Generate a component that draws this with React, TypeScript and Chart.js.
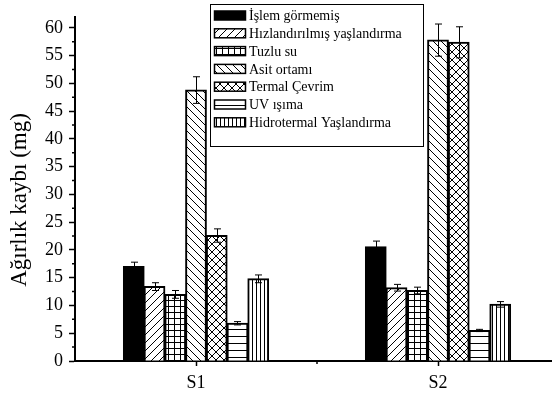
import React, { useEffect, useRef } from "react";
import { Chart, registerables } from "chart.js";

Chart.register(...registerables);

const CATEGORIES = ["S1", "S2"];
const SERIES_LABELS = [
  "İşlem görmemiş",
  "Hızlandırılmış yaşlandırma",
  "Tuzlu su",
  "Asit ortamı",
  "Termal Çevrim",
  "UV ışıma",
  "Hidrotermal Yaşlandırma",
];
const ISLEM = [17.0, 20.6];
const ISLEM_ERR = [0.8, 1.0];
const HIZLANDIRILMIS = [13.4, 13.2];
const HIZLANDIRILMIS_ERR = [0.7, 0.6];
const TUZLU = [12.0, 12.7];
const TUZLU_ERR = [0.7, 0.6];
const ASIT = [48.8, 57.8];
const ASIT_ERR = [2.4, 2.9];
const TERMAL = [22.6, 57.4];
const TERMAL_ERR = [1.2, 2.8];
const UV = [6.8, 5.5];
const UV_ERR = [0.3, 0.2];
const HIDRO = [14.8, 10.2];
const HIDRO_ERR = [0.7, 0.5];
const Y_TICKS = [0, 5, 10, 15, 20, 25, 30, 35, 40, 45, 50, 55, 60];
const Y_TITLE = "Ağırlık kaybı (mg)";

const SERIES = [ISLEM, HIZLANDIRILMIS, TUZLU, ASIT, TERMAL, UV, HIDRO];
const ERRORS = [ISLEM_ERR, HIZLANDIRILMIS_ERR, TUZLU_ERR, ASIT_ERR, TERMAL_ERR, UV_ERR, HIDRO_ERR];
const KINDS = ["solid", "fdiag", "grid", "bdiag", "cross", "horiz", "vert"];

const FONT = "'Liberation Serif', 'Times New Roman', serif";

function makePattern(kind: string): any {
  if (kind === "solid") return "#000";
  const sizes: Record<string, number> = { fdiag: 8, grid: 6, bdiag: 8, cross: 8, horiz: 7, vert: 4 };
  const s = sizes[kind];
  const c = document.createElement("canvas");
  c.width = s;
  c.height = s;
  const ctx = c.getContext("2d")!;
  ctx.fillStyle = "#fff";
  ctx.fillRect(0, 0, s, s);
  ctx.strokeStyle = "#000";
  ctx.lineWidth = 1;
  ctx.beginPath();
  if (kind === "fdiag" || kind === "cross") {
    ctx.moveTo(-1, s + 1);
    ctx.lineTo(s + 1, -1);
    ctx.moveTo(-1, 1);
    ctx.lineTo(1, -1);
    ctx.moveTo(s - 1, s + 1);
    ctx.lineTo(s + 1, s - 1);
  }
  if (kind === "bdiag" || kind === "cross") {
    ctx.moveTo(-1, -1);
    ctx.lineTo(s + 1, s + 1);
    ctx.moveTo(s - 1, -1);
    ctx.lineTo(s + 1, 1);
    ctx.moveTo(-1, s - 1);
    ctx.lineTo(1, s + 1);
  }
  if (kind === "grid" || kind === "horiz") {
    ctx.moveTo(0, 0.5);
    ctx.lineTo(s, 0.5);
  }
  if (kind === "grid" || kind === "vert") {
    ctx.moveTo(0.5, 0);
    ctx.lineTo(0.5, s);
  }
  ctx.stroke();
  return ctx.createPattern(c, "repeat");
}

export default function App() {
  const ref = useRef<HTMLCanvasElement>(null);

  useEffect(() => {
    const canvas = ref.current!;
    const fills = KINDS.map(makePattern);

    const errorBars = {
      id: "errorBars",
      afterDatasetsDraw(chart: any) {
        const ctx = chart.ctx;
        const y = chart.scales.y;
        ctx.save();
        ctx.strokeStyle = "#000";
        ctx.lineWidth = 1;
        chart.data.datasets.forEach((ds: any, i: number) => {
          const meta = chart.getDatasetMeta(i);
          meta.data.forEach((el: any, j: number) => {
            const v = ds.data[j];
            const e = ERRORS[i][j];
            const x = Math.round(el.x) + 0.5;
            const t = y.getPixelForValue(v + e);
            const b = y.getPixelForValue(v - e);
            ctx.beginPath();
            ctx.moveTo(x, t);
            ctx.lineTo(x, b);
            ctx.moveTo(x - 3.5, t);
            ctx.lineTo(x + 3.5, t);
            ctx.moveTo(x - 3.5, b);
            ctx.lineTo(x + 3.5, b);
            ctx.stroke();
          });
        });
        ctx.restore();
      },
    };

    const decorations = {
      id: "decorations",
      afterDraw(chart: any) {
        const ctx = chart.ctx;
        const y = chart.scales.y;
        const x = chart.scales.x;
        const area = chart.chartArea;
        ctx.save();
        // minor ticks
        ctx.strokeStyle = "#000";
        ctx.lineWidth = 1.5;
        ctx.beginPath();
        for (let k = 0; k < Y_TICKS.length - 1; k++) {
          const v = (Y_TICKS[k] + Y_TICKS[k + 1]) / 2;
          const py = y.getPixelForValue(v);
          ctx.moveTo(area.left, py);
          ctx.lineTo(area.left - 3, py);
        }
        for (let k = 0; k < CATEGORIES.length - 1; k++) {
          const px = (x.getPixelForValue(k) + x.getPixelForValue(k + 1)) / 2;
          ctx.moveTo(px, area.bottom);
          ctx.lineTo(px, area.bottom + 3);
        }
        ctx.stroke();

        // y title
        ctx.fillStyle = "#000";
        ctx.font = `23px ${FONT}`;
        ctx.textAlign = "center";
        ctx.textBaseline = "middle";
        ctx.translate(20, 200);
        ctx.rotate(-Math.PI / 2);
        ctx.fillText(Y_TITLE, 0, 0);
        ctx.setTransform(1, 0, 0, 1, 0, 0);

        // legend
        const lx = 210.5, ly = 4.5, lw = 213, lh = 142;
        ctx.fillStyle = "#fff";
        ctx.fillRect(lx, ly, lw, lh);
        ctx.strokeStyle = "#000";
        ctx.lineWidth = 1;
        ctx.strokeRect(lx, ly, lw, lh);
        ctx.font = `14px ${FONT}`;
        ctx.textAlign = "left";
        ctx.textBaseline = "middle";
        SERIES_LABELS.forEach((label, i) => {
          const cy = 15.5 + i * 17.8;
          ctx.fillStyle = fills[i];
          ctx.fillRect(214.5, cy - 4.5, 31, 9);
          ctx.lineWidth = 1.5;
          ctx.strokeStyle = "#000";
          ctx.strokeRect(214.5, cy - 4.5, 31, 9);
          ctx.fillStyle = "#000";
          ctx.fillText(label, 249, cy + 1);
        });
        ctx.restore();
      },
    };

    const chart = new Chart(canvas, {
      type: "bar",
      data: {
        labels: CATEGORIES,
        datasets: SERIES.map((d, i) => ({
          label: SERIES_LABELS[i],
          data: d,
          backgroundColor: fills[i],
          borderColor: "#000",
          borderWidth: 2,
          inflateAmount: 0.5,
          barPercentage: 1,
          categoryPercentage: 0.6,
        })),
      },
      options: {
        animation: false,
        responsive: false,
        events: [],
        layout: { padding: { top: 3, right: 3, left: 0, bottom: 0 } },
        plugins: { legend: { display: false }, tooltip: { enabled: false } },
        scales: {
          x: {
            type: "category",
            offset: true,
            grid: {
              offset: false,
              drawOnChartArea: false,
              tickLength: 5,
              tickColor: "#000",
              tickWidth: 1.5,
            },
            border: { color: "#000", width: 2 },
            ticks: { color: "#000", font: { family: FONT, size: 18 }, padding: 6 },
            afterFit: (s: any) => {
              s.height = 33;
            },
          },
          y: {
            min: 0,
            max: 62,
            afterBuildTicks: (s: any) => {
              s.ticks = Y_TICKS.map((v) => ({ value: v }));
            },
            grid: {
              drawOnChartArea: false,
              tickLength: 6,
              tickColor: "#000",
              tickWidth: 1.5,
            },
            border: { color: "#000", width: 2 },
            ticks: { color: "#000", font: { family: FONT, size: 18 }, padding: 6 },
            afterFit: (s: any) => {
              s.width = 75;
            },
          },
        },
      },
      plugins: [errorBars, decorations],
    } as any);

    return () => chart.destroy();
  }, []);

  return (
    <div
      style={{
        position: "fixed",
        left: 0,
        top: 0,
        width: 552,
        height: 394,
        overflow: "hidden",
        background: "#fff",
      }}
    >
      <canvas ref={ref} width={562} height={394} style={{ display: "block", width: 562, height: 394 }} />
    </div>
  );
}
